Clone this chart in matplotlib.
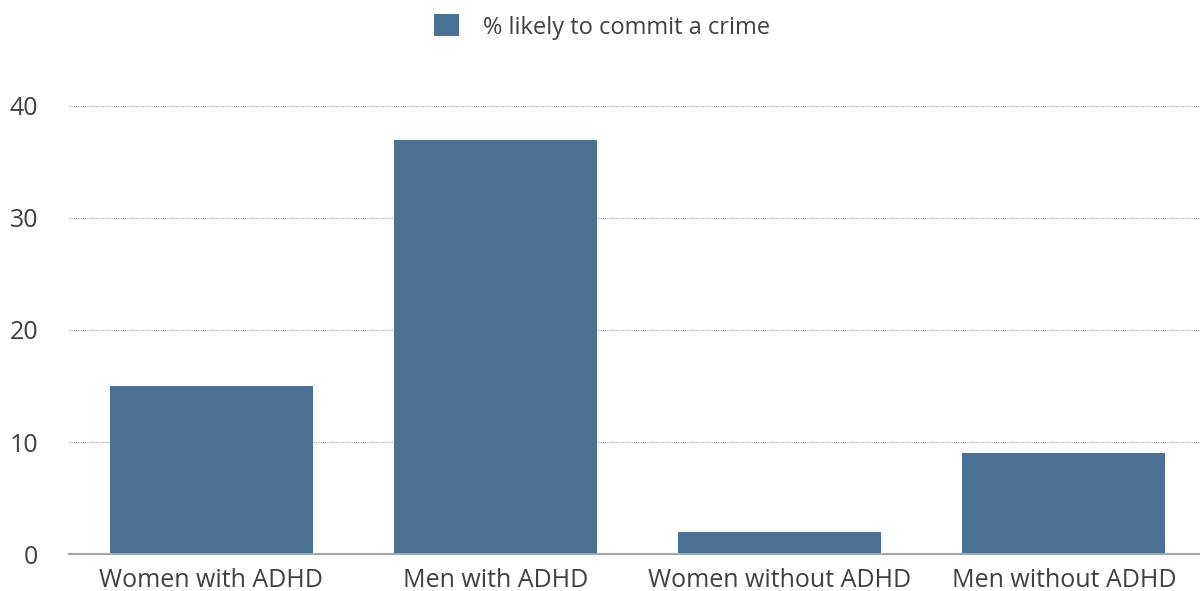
import matplotlib
matplotlib.use("Agg")
import matplotlib.pyplot as plt
from matplotlib.patches import Patch

categories = ["Women with ADHD", "Men with ADHD", "Women without ADHD", "Men without ADHD"]
values = [15, 37, 2, 9]
series_name = "% likely to commit a crime"
yticks = [0, 10, 20, 30, 40]

bar_color = "#4A7094"
text_color = "#404040"

plt.rcParams["font.family"] = ["Open Sans", "DejaVu Sans"]

W, H = 1200, 591
fig = plt.figure(figsize=(W / 100, H / 100), dpi=100)
ax = fig.add_axes([69 / W, 37 / H, 1137 / W, 448 / H])

x = range(len(categories))
ax.bar(x, values, width=0.715, color=bar_color, zorder=2)

ax.set_xlim(-0.5, len(categories) - 0.5)
ax.set_ylim(0, 40)
ax.set_yticks(yticks)
ax.set_xticks(list(x))
ax.set_xticklabels(categories)

ax.grid(axis="y", linestyle=(0, (1, 1)), color="#A6A6A6", linewidth=0.8, zorder=0)
ax.grid(axis="x", visible=False)
for side in ("top", "right", "left"):
    ax.spines[side].set_visible(False)
ax.spines["bottom"].set_color("#A6A6A6")
ax.spines["bottom"].set_linewidth(1.5)
ax.spines["bottom"].set_bounds(-0.5, len(categories) - 0.5)

ax.tick_params(axis="both", length=0, labelsize=18, colors=text_color)
ax.tick_params(axis="y", pad=22)
ax.tick_params(axis="x", pad=10)
for lbl in ax.get_yticklabels():
    lbl.set_horizontalalignment("right")

handle = Patch(facecolor=bar_color, edgecolor="none")
fig.legend([handle], [series_name], loc="center", bbox_to_anchor=(602 / W, 1 - 27 / H),
           frameon=False, fontsize=17, labelcolor=text_color,
           handlelength=1.05, handleheight=1.05, handletextpad=1.0)

fig.savefig("out.png", dpi=100)
